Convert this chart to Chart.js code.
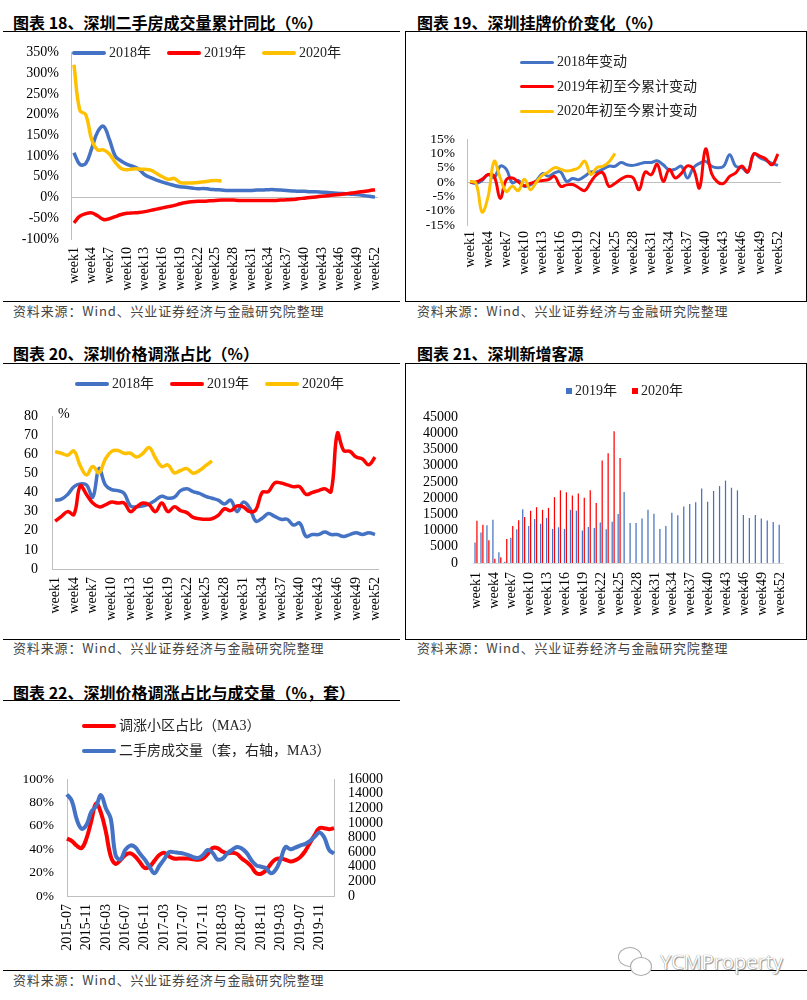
<!DOCTYPE html>
<html>
<head>
<meta charset="utf-8">
<script src="https://cdn.jsdelivr.net/npm/chart.js@4.4.1/dist/chart.umd.min.js"></script>
<style>
  html, body { margin: 0; padding: 0; background: #fff; }
  #page { position: relative; width: 807px; height: 1000px; overflow: hidden; }
  .title { position: absolute; font-family: 'Noto Sans CJK SC', sans-serif; font-weight: 700; font-size: 16px; line-height: 16px; color: #000; white-space: nowrap; }
  .rule { position: absolute; height: 0; border-top: 1px solid #000; }
  .box { position: absolute; border: 1px solid #000; }
  .src { position: absolute; font-family: 'Noto Sans CJK SC', sans-serif; font-size: 13px; line-height: 14px; color: #444; white-space: nowrap; letter-spacing: 0.85px; }
  canvas { position: absolute; }
  .legend { position: absolute; font-family: 'Liberation Serif', 'Noto Sans CJK SC', serif; font-size: 14px; line-height: 16px; color: #222; display: flex; }
  .legend.row { flex-direction: row; gap: 16px; }
  .legend.col { flex-direction: column; }
  .legend.col .item { height: 24.6px; }
  .legend .item { display: flex; align-items: center; white-space: nowrap; }
  .legend .line { display: inline-block; width: 34px; height: 4px; margin-right: 3px; border-radius: 2px; }
  .legend .sq { display: inline-block; width: 6px; height: 6px; margin-right: 3px; }
  .unit { position: absolute; font-family: 'Liberation Serif', serif; font-size: 14px; line-height: 16px; color: #000; }
  .wm { position: absolute; font-family: 'Open Sans', sans-serif; font-size: 20px; line-height: 24px; color: #fff; text-shadow: 0 0 1px #666, 1px 1px 1px #999; }
  .bubble { position: absolute; border: 1px solid #aaa; border-radius: 50%; background: #fff; }
</style>
</head>
<body>
<div id="page">
  <div class="title" style="left:13px;top:14px;">图表 18、深圳二手房成交量累计同比（%）</div>
  <div class="rule" style="left:3px;top:31px;width:397px;"></div>
  <canvas id="c18" width="400" height="268" style="left:0;top:32px;"></canvas>
  <div id="lg18" class="legend row" style="left:72px;top:45px;"></div>
  <div class="rule" style="left:3px;top:301px;width:397px;"></div>
  <div class="src" style="left:13px;top:304px;">资料来源：Wind、兴业证券经济与金融研究院整理</div>

  <div class="title" style="left:417px;top:14px;">图表 19、深圳挂牌价价变化（%）</div>
  <div class="box" style="left:405px;top:31px;width:400px;height:269px;"></div>
  <canvas id="c19" width="400" height="268" style="left:406px;top:32px;"></canvas>
  <div id="lg19" class="legend col" style="left:520px;top:50px;"></div>
  <div class="src" style="left:417px;top:304px;">资料来源：Wind、兴业证券经济与金融研究院整理</div>

  <div class="title" style="left:13px;top:345px;">图表 20、深圳价格调涨占比（%）</div>
  <div class="rule" style="left:3px;top:363px;width:397px;"></div>
  <canvas id="c20" width="400" height="274" style="left:0;top:364px;"></canvas>
  <div id="lg20" class="legend row" style="left:75px;top:376px;"></div>
  <div class="unit" style="left:58px;top:406px;">%</div>
  <div class="rule" style="left:3px;top:639px;width:397px;"></div>
  <div class="src" style="left:13px;top:641px;">资料来源：Wind、兴业证券经济与金融研究院整理</div>

  <div class="title" style="left:417px;top:345px;">图表 21、深圳新增客源</div>
  <div class="box" style="left:405px;top:363px;width:400px;height:275px;"></div>
  <canvas id="c21" width="400" height="274" style="left:406px;top:364px;"></canvas>
  <div id="lg21" class="legend row" style="left:566px;top:383px;gap:15px;"></div>
  <div class="src" style="left:417px;top:641px;">资料来源：Wind、兴业证券经济与金融研究院整理</div>

  <div class="title" style="left:13px;top:684px;">图表 22、深圳价格调涨占比与成交量（%，套）</div>
  <div class="rule" style="left:3px;top:700px;width:397px;"></div>
  <canvas id="c22" width="400" height="266" style="left:0;top:702px;"></canvas>
  <div id="lg22" class="legend col" style="left:82px;top:714px;"></div>
  <div class="rule" style="left:3px;top:970px;width:804px;"></div>
  <div class="src" style="left:13px;top:973px;">资料来源：Wind、兴业证券经济与金融研究院整理</div>

  <div class="bubble" style="left:618px;top:947px;width:22px;height:18px;"></div>
  <div class="bubble" style="left:630px;top:957px;width:20px;height:17px;"></div>
  <div class="wm" style="left:660px;top:950px;">YCMProperty</div>
</div>

<script>
// weeks / months on the category axes
var weekLabels = [];
for (var w = 1; w <= 52; w++) weekLabels.push('week' + w);
var monthLabels = [];
for (var m = 0; m < 56; m++) {
  var mm = (6 + m) % 12 + 1;
  monthLabels.push((2015 + Math.floor((6 + m) / 12)) + '-' + (mm < 10 ? '0' + mm : mm));
}

// 18: cumulative yoy of second-hand deals (%)
var yoy2018 = [108, 80, 82, 118, 158, 172, 140, 100, 88, 80, 75, 68, 55, 48, 42, 37, 33, 29, 26, 25,
  23, 21, 22, 20, 19, 18, 17, 17, 17, 17, 17, 18, 18, 19, 19, 18, 17, 16, 15, 15,
  14, 14, 13, 12, 11, 10, 9, 8, 7, 5, 3, 1];
var yoy2019 = [-61, -45, -39, -37, -44, -53, -51, -46, -41, -38, -37, -36, -34, -31, -28, -25, -22, -19, -15, -12,
  -10, -9, -9, -8, -7, -6, -6, -6, -7, -7, -7, -7, -7, -7, -7, -6, -5.5, -5, -3, -1.5,
  0, 1.5, 3, 4.5, 6, 7.5, 9, 11, 12.5, 14.5, 16.5, 19];
var yoy2020 = [320, 210, 200, 140, 115, 115, 105, 85, 70, 67, 69, 69, 68, 66, 58, 50, 44, 46, 36, 35,
  35, 36, 38, 40, 41, 40];

// 19: listing price change (%)
var list2018 = [0, -0.5, 0.5, 2.5, 1.5, 5.5, 4.5, -0.3, 0.5, -1.5, -1, 0.5, 2.9, 2, 3.2, 3.5, 0.2, 1.2, 0.8, 2,
  3.5, 3.5, 4.5, 5.5, 5.5, 6.8, 6, 5.8, 6.3, 6.8, 6.8, 7.4, 6, 4.2, 4.5, 5.5, 1.4, 5, 6.5, 7.2,
  5.5, 5, 5.5, 9.5, 5.5, 5, 3.5, 9.8, 8.5, 7.5, 6.5, 5.8];
var list2019 = [0, 0, 1, 2.6, 2, -5.7, 0.8, 1.4, 0, -1.3, -0.5, 0.2, 0.5, 0.8, 2, -1.5, -1, -0.9, -2, -3,
  0, 2.6, 3.2, -1.5, -0.5, 1, 2, 1.5, -2.7, 3.5, 2.5, 6.2, 0.2, 4.4, 1.4, 3, 5.6, 4.5, -2.1, 11.5,
  3, 0, -0.5, 2, 3.2, 5.6, 3.5, 9.8, 9, 8, 6, 9.8];
var list2020 = [0.2, -0.5, -10.5, -5, 7.2, 1.5, -3.3, -1.5, -3, 1, -2.7, 0, 2.4, 3.5, 5, 4.5, 3.8, 4.2, 5, 7.3,
  2.6, 5, 5.5, 7, 10];

// 20: share of estates with price rises (%)
var up2018 = [36, 36.5, 39, 43, 44.5, 44, 37.5, 52.5, 44, 41.5, 41, 39.5, 33, 32.5, 33, 34, 36, 38, 37, 37.5,
  41, 42, 40.5, 39.5, 38, 37, 36, 34, 36, 30, 35, 32, 25, 26.5, 29, 27.5, 26, 26, 23, 24,
  17, 18, 18, 19.3, 18, 18, 17, 18, 19, 18, 19, 18];
var up2019 = [25, 27.5, 30, 28.5, 43.5, 39, 34.5, 32.5, 33.5, 35, 34.5, 34.5, 30, 32.5, 34.5, 33.5, 30, 34.5, 30, 32.5,
  30.5, 29.5, 27, 26.3, 26, 26.3, 28, 31.5, 30.5, 33, 32.5, 30, 31, 40, 40.5, 45, 45, 44, 43, 43,
  39, 40, 41, 42, 40.5, 71, 62, 61.5, 58.5, 57.5, 54.5, 58.5];
var up2020 = [61.4, 60.5, 59.5, 61.7, 54, 49.2, 53.6, 50.3, 57.5, 61.5, 62, 60.5, 60.5, 58.5, 60.5, 63.5, 58, 53.6, 54.4, 50.3,
  51.5, 52.5, 50.1, 51.5, 54, 56.5];

// 21: new buyers
var buyers2019 = [6300, 9400, 11600, 13300, 3300, 400, 7800, 10400, 16600, 11400, 13600, 12100, 13900, 10500, 11000, 10500, 16400, 16100, 10000, 11100,
  10800, 12500, 10400, 12700, 15100, 21900, 12300, 12300, 13700, 16400, 15200, 10500, 11400, 15500, 14700, 17400, 18200, 18700, 23000, 18900,
  22200, 23700, 25400, 23200, 22400, 14800, 13900, 14800, 13700, 13100, 12600, 11800];
var buyers2020 = [13000, 11800, 7000, 1300, 1800, 7400, 11400, 13200, 14200, 16100, 17200, 16400, 17000, 20300, 22400, 21800, 20800, 21400, 20100, 22400,
  18500, 31600, 33800, 40600, 32400];

// 22: price-rise share (MA3, %) and second-hand deals (MA3, units)
var riseShare = [49, 47, 43, 41, 49, 64, 79, 71, 55, 34, 27.5, 30.5, 35, 36.5, 34, 29, 24, 25, 30, 35,
  37, 34, 32, 32, 32, 32, 31.5, 31, 32, 36, 41, 41, 38, 36.5, 37, 36, 32, 29, 25, 19.5,
  19, 22, 27.5, 31.5, 32, 31, 29.5, 30.5, 33, 38, 45, 52, 58, 58, 57, 58];
var deals = [13900, 13000, 10500, 9200, 9700, 11500, 12300, 13800, 12000, 10600, 5600, 5000, 6300, 6900, 6700, 5800, 5000, 4000, 3100, 4100,
  5000, 6000, 6000, 5900, 5800, 5600, 5300, 5200, 5600, 6300, 5900, 5000, 5100, 5800, 6300, 6700, 6500, 5900, 4900, 4200,
  4000, 3800, 3100, 3600, 5000, 6700, 6400, 6600, 6900, 7100, 7500, 8100, 8700, 8000, 6300, 5800];

var BLUE = '#4472C4', RED = '#FF0000', YELLOW = '#FFC000', GRAY = '#BFBFBF';

Chart.defaults.font.family = "'Liberation Serif', 'Noto Sans CJK SC', serif";
Chart.defaults.font.size = 14;
Chart.defaults.color = '#000';
Chart.defaults.animation = false;
Chart.defaults.plugins.legend.display = false;
Chart.defaults.plugins.tooltip.enabled = false;
Chart.defaults.elements.point.radius = 0;
Chart.defaults.elements.line.tension = 0.4;

function fixW(px) { return function (s) { s.width = px; }; }
function fixH(px) { return function (s) { s.height = px; }; }
function everyN(n) {
  return function (v, i) { return i % n === 0 ? this.getLabelForValue(v) : ''; };
}
function zeroLine(ctx) { return ctx.tick && ctx.tick.value === 0 ? GRAY : 'rgba(0,0,0,0)'; }
function pct(v) { return v + '%'; }
function plain(v) { return String(v); }

function weekAxis(h, pad) {
  return {
    offset: true,
    grid: { display: false, drawTicks: false },
    border: { display: false },
    ticks: { autoSkip: false, minRotation: 90, maxRotation: 90, padding: pad, callback: everyN(3) },
    afterFit: fixH(h)
  };
}

// builds a legend next to the canvas from the chart's own datasets
function htmlLegend(chart, id, marker) {
  var box = document.getElementById(id);
  chart.data.datasets.forEach(function (ds) {
    var item = document.createElement('div');
    item.className = 'item';
    var mk = document.createElement('span');
    mk.className = marker;
    mk.style.background = chart.config.type === 'bar' ? ds.backgroundColor : ds.borderColor;
    if (marker === 'line' && ds.borderWidth < 3.5) mk.style.height = '3px';
    item.appendChild(mk);
    item.appendChild(document.createTextNode(ds.label));
    box.appendChild(item);
  });
}

var c18 = new Chart(document.getElementById('c18'), {
  type: 'line',
  data: {
    labels: weekLabels,
    datasets: [
      { label: '2018年', data: yoy2018, borderColor: BLUE, borderWidth: 3.5, order: 2 },
      { label: '2019年', data: yoy2019, borderColor: RED, borderWidth: 3.5, order: 1 },
      { label: '2020年', data: yoy2020, borderColor: YELLOW, borderWidth: 3.5, order: 0 }
    ]
  },
  options: {
    responsive: false,
    layout: { padding: { top: 10, right: 18 } },
    scales: {
      x: weekAxis(61, 8),
      y: {
        min: -100, max: 350,
        grid: { drawTicks: false, color: zeroLine },
        border: { display: true, color: GRAY },
        ticks: { stepSize: 50, autoSkip: false, padding: 12, callback: pct },
        afterFit: fixW(71)
      }
    }
  }
});
htmlLegend(c18, 'lg18', 'line');

var c19 = new Chart(document.getElementById('c19'), {
  type: 'line',
  data: {
    labels: weekLabels,
    datasets: [
      { label: '2018年变动', data: list2018, borderColor: BLUE, borderWidth: 3, order: 2 },
      { label: '2019年初至今累计变动', data: list2019, borderColor: RED, borderWidth: 3, order: 1 },
      { label: '2020年初至今累计变动', data: list2020, borderColor: YELLOW, borderWidth: 3, order: 0 }
    ]
  },
  options: {
    responsive: false,
    layout: { padding: { top: 107, right: 25 } },
    scales: {
      x: weekAxis(75, 6),
      y: {
        min: -15, max: 15,
        grid: { drawTicks: false, color: zeroLine },
        border: { display: true, color: GRAY },
        ticks: { stepSize: 5, autoSkip: false, padding: 12, callback: pct, font: { size: 13.5 } },
        afterFit: fixW(61)
      }
    }
  }
});
htmlLegend(c19, 'lg19', 'line');

var c20 = new Chart(document.getElementById('c20'), {
  type: 'line',
  data: {
    labels: weekLabels,
    datasets: [
      { label: '2018年', data: up2018, borderColor: BLUE, borderWidth: 3.5, order: 2 },
      { label: '2019年', data: up2019, borderColor: RED, borderWidth: 3.5, order: 1 },
      { label: '2020年', data: up2020, borderColor: YELLOW, borderWidth: 3.5, order: 0 }
    ]
  },
  options: {
    responsive: false,
    layout: { padding: { top: 52, right: 20 } },
    scales: {
      x: Object.assign(weekAxis(69, 8), { border: { display: true, color: GRAY } }),
      y: {
        min: 0, max: 80,
        grid: { display: false, drawTicks: false },
        border: { display: true, color: GRAY },
        ticks: { stepSize: 10, autoSkip: false, padding: 14, callback: plain },
        afterFit: fixW(52)
      }
    }
  }
});
htmlLegend(c20, 'lg20', 'line');

var c21 = new Chart(document.getElementById('c21'), {
  type: 'bar',
  data: {
    labels: weekLabels,
    datasets: [
      { label: '2019年', data: buyers2019, backgroundColor: BLUE },
      { label: '2020年', data: buyers2020, backgroundColor: RED }
    ]
  },
  options: {
    responsive: false,
    categoryPercentage: 0.64,
    barPercentage: 0.65,
    layout: { padding: { top: 53, right: 6 } },
    scales: {
      x: Object.assign(weekAxis(75, 9), { border: { display: true, color: '#D9D9D9' } }),
      y: {
        min: 0, max: 45000,
        grid: { display: false, drawTicks: false },
        border: { display: false },
        ticks: { stepSize: 5000, autoSkip: false, padding: 15, callback: plain },
        afterFit: fixW(67)
      }
    }
  }
});
htmlLegend(c21, 'lg21', 'sq');

var c22 = new Chart(document.getElementById('c22'), {
  type: 'line',
  data: {
    labels: monthLabels,
    datasets: [
      { label: '调涨小区占比（MA3）', data: riseShare, borderColor: RED, borderWidth: 4, yAxisID: 'y', order: 1 },
      { label: '二手房成交量（套，右轴，MA3）', data: deals, borderColor: BLUE, borderWidth: 4, yAxisID: 'y1', order: 0 }
    ]
  },
  options: {
    responsive: false,
    layout: { padding: { top: 77 } },
    scales: {
      x: {
        grid: { display: false, drawTicks: false },
        border: { display: true, color: GRAY },
        ticks: { autoSkip: false, minRotation: 90, maxRotation: 90, padding: 8, callback: everyN(4) },
        afterFit: fixH(72)
      },
      y: {
        position: 'left', min: 0, max: 100,
        grid: { display: false, drawTicks: false },
        border: { display: true, color: GRAY },
        ticks: { stepSize: 20, autoSkip: false, padding: 13, callback: pct, font: { size: 13.5 } },
        afterFit: fixW(67)
      },
      y1: {
        position: 'right', min: 0, max: 16000,
        grid: { display: false, drawTicks: false },
        border: { display: true, color: GRAY },
        ticks: { stepSize: 2000, autoSkip: false, padding: 14, callback: plain },
        afterFit: fixW(66)
      }
    }
  }
});
htmlLegend(c22, 'lg22', 'line');
</script>
</body>
</html>
